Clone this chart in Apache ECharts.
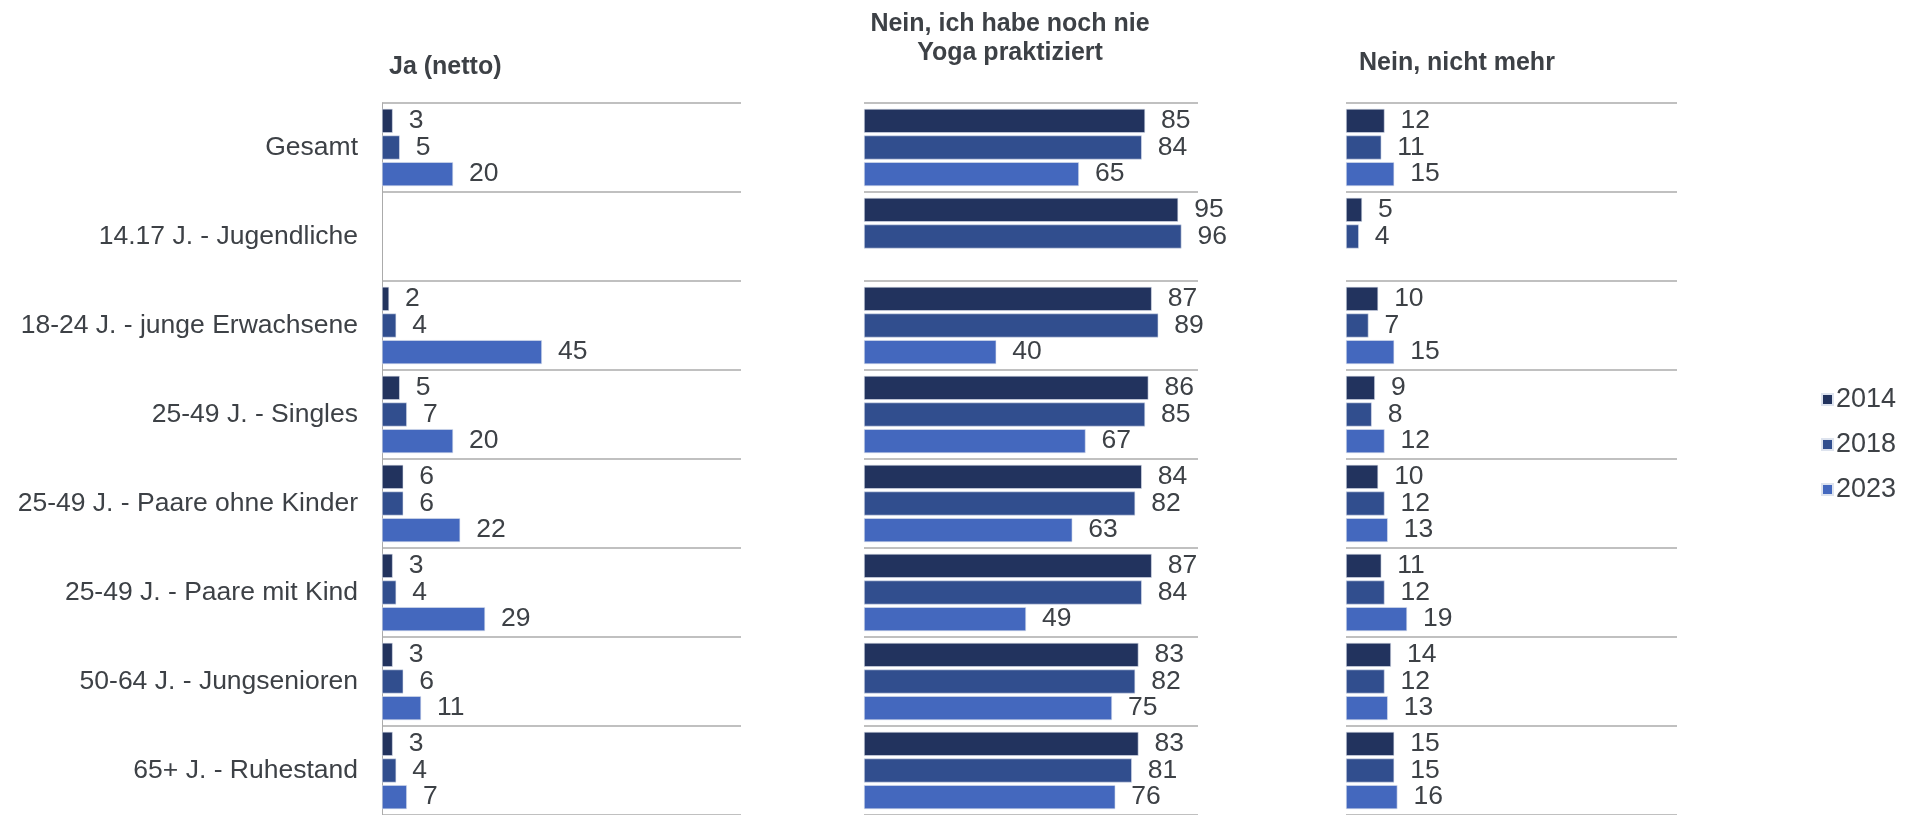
<!DOCTYPE html>
<html>
<head>
<meta charset="utf-8">
<script src="https://cdn.jsdelivr.net/npm/echarts@6/dist/echarts.min.js"></script>
<style>
  html, body { margin: 0; padding: 0; background: #fff; }
  #chart { width: 1906px; height: 815px; }
</style>
</head>
<body>
<div id="chart"></div>
<script>
var categories = ['Gesamt', '14.17 J. - Jugendliche', '18-24 J. - junge Erwachsene', '25-49 J. - Singles',
  '25-49 J. - Paare ohne Kinder', '25-49 J. - Paare mit Kind', '50-64 J. - Jungsenioren', '65+ J. - Ruhestand'];
var years = ['2014', '2018', '2023'];
var panelTitles = ['Ja (netto)', 'Nein, ich habe noch nie\nYoga praktiziert', 'Nein, nicht mehr'];

// Ja (netto)
var ja2014 = [3, null, 2, 5, 6, 3, 3, 3];
var ja2018 = [5, null, 4, 7, 6, 4, 6, 4];
var ja2023 = [20, null, 45, 20, 22, 29, 11, 7];
// Nein, noch nie
var nie2014 = [85, 95, 87, 86, 84, 87, 83, 83];
var nie2018 = [84, 96, 89, 85, 82, 84, 82, 81];
var nie2023 = [65, null, 40, 67, 63, 49, 75, 76];
// Nein, nicht mehr
var mehr2014 = [12, 5, 10, 9, 10, 11, 14, 15];
var mehr2018 = [11, 4, 7, 8, 12, 12, 12, 15];
var mehr2023 = [15, null, 15, 12, 13, 19, 13, 16];

var panelData = [[ja2014, ja2018, ja2023], [nie2014, nie2018, nie2023], [mehr2014, mehr2018, mehr2023]];
var colors = ['#22335e', '#314e8e', '#4468be'];
var font = "'Liberation Sans', Arial, sans-serif";
var textColor = '#3d4146';

var myChart = echarts.init(document.getElementById('chart'));

var grids = [
  { left: 382, width: 359, top: 103, bottom: 0 },
  { left: 864, width: 334, top: 103, bottom: 0 },
  { left: 1346, width: 331, top: 103, bottom: 0 }
];
var maxes = [101, 101, 103];

var xAxes = [], yAxes = [], series = [];
for (var p = 0; p < 3; p++) {
  xAxes.push({
    type: 'value', gridIndex: p, min: 0, max: maxes[p], show: false
  });
  yAxes.push({
    type: 'category', gridIndex: p, data: categories, inverse: true,
    axisLine: { show: p === 0, lineStyle: { color: '#ababab', width: 1 } },
    axisTick: { show: false },
    axisLabel: {
      show: p === 0, margin: 24, fontSize: 26.5, color: textColor, fontFamily: font
    },
    splitLine: { show: true, lineStyle: { color: '#ababab', width: 1.5 } }
  });
  for (var s = 0; s < 3; s++) {
    series.push({
      name: years[s],
      type: 'bar',
      xAxisIndex: p,
      yAxisIndex: p,
      barWidth: 24,
      barGap: '11%',
      data: panelData[p][s],
      itemStyle: { color: colors[s], borderColor: '#dde3ee', borderWidth: 0.6 },
      label: {
        show: true, position: 'right', distance: 16,
        fontSize: 26.5, color: textColor, fontFamily: font
      },
      silent: true
    });
  }
}

myChart.setOption({
  backgroundColor: '#ffffff',
  animation: false,
  textStyle: { fontFamily: font },
  title: [
    { text: panelTitles[0], left: 384, top: 50,
      textStyle: { fontSize: 25, fontWeight: 'bold', color: textColor, fontFamily: font } },
    { text: panelTitles[1], left: 1005, top: 5, textAlign: 'center',
      textStyle: { fontSize: 25, fontWeight: 'bold', color: textColor, fontFamily: font, lineHeight: 29, align: 'center' } },
    { text: panelTitles[2], left: 1354, top: 46,
      textStyle: { fontSize: 25, fontWeight: 'bold', color: textColor, fontFamily: font } }
  ],
  legend: {
    data: years,
    orient: 'vertical',
    left: 1816,
    top: 381,
    itemWidth: 11,
    itemHeight: 11,
    itemGap: 18,
    icon: 'rect',
    textStyle: { fontSize: 27, color: textColor, fontFamily: font, padding: [0, 0, 0, -2] }
  },
  grid: grids,
  xAxis: xAxes,
  yAxis: yAxes,
  series: series
});
</script>
</body>
</html>
